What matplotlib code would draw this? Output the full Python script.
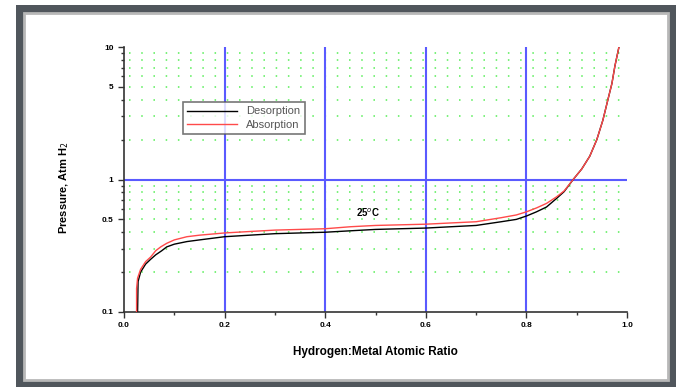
import numpy as np
import matplotlib
matplotlib.use("Agg")
import matplotlib.pyplot as plt
from matplotlib.patches import Rectangle
from matplotlib.ticker import FixedLocator, NullFormatter

# Absorption isotherm (red)
abs_x = [0.025, 0.025, 0.027, 0.033, 0.043, 0.053, 0.063, 0.073, 0.085, 0.10,
         0.125, 0.15, 0.20, 0.25, 0.30, 0.35, 0.40, 0.45, 0.50, 0.55, 0.60,
         0.65, 0.70, 0.75, 0.78, 0.80, 0.82, 0.84, 0.86, 0.875, 0.893, 0.91,
         0.926, 0.94, 0.952, 0.962, 0.97, 0.976, 0.984]
abs_p = [0.1, 0.15, 0.18, 0.21, 0.24, 0.26, 0.29, 0.31, 0.33, 0.35,
         0.37, 0.38, 0.395, 0.405, 0.415, 0.42, 0.425, 0.44, 0.45, 0.455, 0.46,
         0.47, 0.48, 0.515, 0.54, 0.57, 0.61, 0.66, 0.74, 0.82, 1.0, 1.2,
         1.5, 2.0, 2.8, 4.0, 5.3, 7.2, 10.0]

# Desorption isotherm (black)
des_x = [0.027, 0.028, 0.033, 0.043, 0.053, 0.063, 0.075, 0.085, 0.10, 0.125,
         0.15, 0.20, 0.25, 0.30, 0.35, 0.40, 0.45, 0.50, 0.55, 0.60, 0.65,
         0.70, 0.75, 0.78, 0.80, 0.82, 0.84, 0.86, 0.875, 0.893, 0.91, 0.926,
         0.94, 0.952, 0.962, 0.97, 0.976, 0.984]
des_p = [0.1, 0.17, 0.2, 0.23, 0.25, 0.27, 0.29, 0.31, 0.325, 0.34,
         0.35, 0.37, 0.38, 0.39, 0.395, 0.40, 0.41, 0.42, 0.425, 0.43, 0.44,
         0.45, 0.48, 0.50, 0.53, 0.57, 0.62, 0.72, 0.81, 1.0, 1.2, 1.5,
         2.0, 2.8, 4.0, 5.3, 7.2, 10.0]

x_major = [0.0, 0.2, 0.4, 0.6, 0.8, 1.0]
x_minor = [0.1, 0.3, 0.5, 0.7, 0.9]
y_major = [0.1, 0.5, 1, 5, 10]
y_minor = [0.2, 0.3, 0.4, 0.6, 0.7, 0.8, 0.9, 2, 3, 4, 6, 7, 8, 9]
green_rows = [0.2, 0.3, 0.4, 0.5, 0.6, 0.7, 0.8, 0.9, 2, 3, 4, 5, 6, 7, 8, 9]
blue_cols = [0.2, 0.4, 0.6, 0.8]

plt.rcParams["font.family"] = ["Liberation Sans", "DejaVu Sans"]

fig = plt.figure(figsize=(6.76, 3.87), dpi=100)
W, H = 676, 387

# picture frame
fig.add_artist(Rectangle((16 / W, 0), 660 / W, 382 / H, transform=fig.transFigure,
                         facecolor="#50565c", edgecolor="none", zorder=-3))
fig.add_artist(Rectangle((24 / W, 7 / H), 644 / W, 367 / H, transform=fig.transFigure,
                         facecolor="white", edgecolor="#b8b8b8", linewidth=2, zorder=-2))

ax = fig.add_axes([124 / W, 1 - 312 / H, 503 / W, 265 / H])
ax.set_yscale("log")
ax.set_xlim(0, 1)
ax.set_ylim(0.1, 10)

for v in green_rows:
    ax.axhline(v, xmin=0.01, xmax=0.99, color="#55ee55", linestyle=(0, (1, 7)),
               linewidth=1.1, zorder=1)
for v in blue_cols:
    ax.axvline(v, color="#5a5aff", linewidth=1.5, zorder=2)
ax.axhline(1, color="#5a5aff", linewidth=1.5, zorder=2)

ax.plot(des_x, des_p, color="black", linewidth=1.0, label="Desorption", zorder=3)
ax.plot(abs_x, abs_p, color="#ff4a4a", linewidth=1.0, label="Absorption", zorder=4)

ax.text(0.485, 0.565, "25$^o$C", fontsize=7, fontweight="bold", ha="center", va="center")

for s in ["top", "right"]:
    ax.spines[s].set_visible(False)
for s in ["left", "bottom"]:
    ax.spines[s].set_color("#333333")
    ax.spines[s].set_linewidth(1.2)

ax.xaxis.set_major_locator(FixedLocator(x_major))
ax.xaxis.set_minor_locator(FixedLocator(x_minor))
ax.set_xticklabels(["0.0", "0.2", "0.4", "0.6", "0.8", "1.0"])
ax.yaxis.set_major_locator(FixedLocator(y_major))
ax.yaxis.set_minor_locator(FixedLocator(y_minor))
ax.yaxis.set_minor_formatter(NullFormatter())
ax.set_yticklabels(["0.1", "0.5", "1", "5", "10"])
ax.tick_params(which="major", length=4, width=1, labelsize=6, color="#333333")
ax.tick_params(which="minor", length=2.5, width=1, color="#333333")
for lab in ax.get_xticklabels() + ax.get_yticklabels():
    lab.set_fontweight("bold")

ax.set_xlabel("Hydrogen:Metal Atomic Ratio", fontsize=8.5, fontweight="bold", labelpad=12)
ax.set_ylabel("Pressure, Atm H$_2$", fontsize=8, fontweight="bold")
ax.yaxis.set_label_coords(-0.105, 0.47)

leg = ax.legend(loc="upper left", bbox_to_anchor=(59 / 503, 1 - 55 / 265), fontsize=8,
                frameon=True, fancybox=False, shadow=False, handlelength=4.5,
                borderpad=0.4, labelspacing=0.3, borderaxespad=0)
leg.get_frame().set_edgecolor("#555555")
leg.get_frame().set_linewidth(1.2)
for t in leg.get_texts():
    t.set_color("#555555")

fig.savefig("out.png", dpi=100)
